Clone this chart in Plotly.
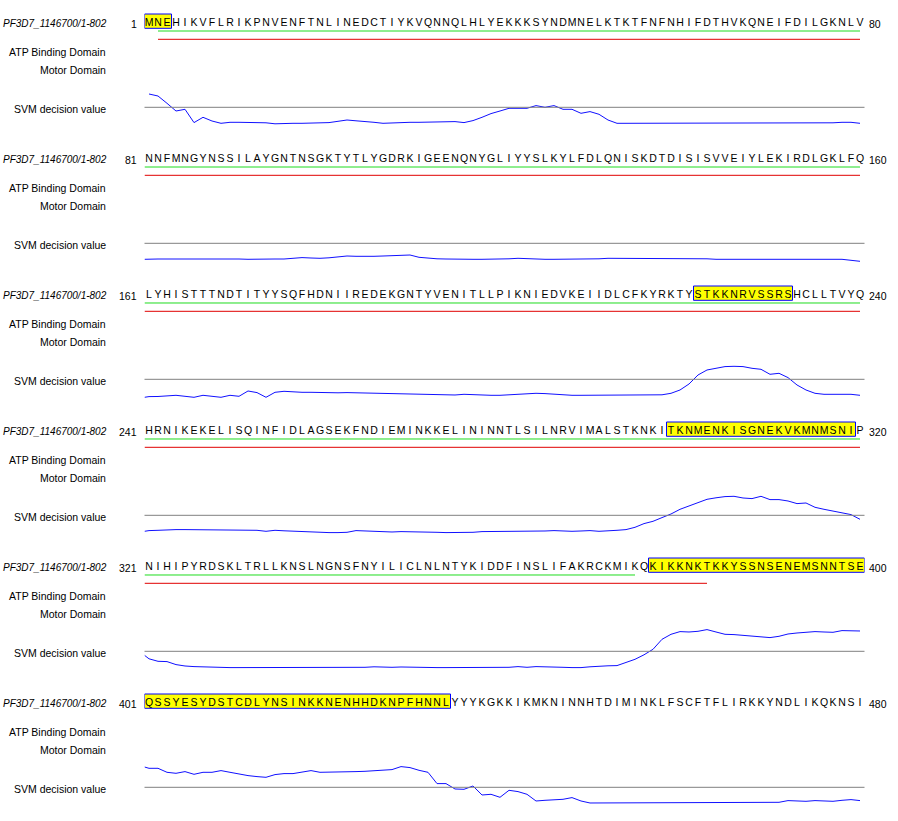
import plotly.graph_objects as go

# ---------------- data ----------------
SEQ_ID = "PF3D7_1146700/1-802"
SEQUENCE_ROWS = [
    "MNEHIKVFLRIKPNVENFTNLINEDCTIYKVQNNQLHLYEKKKSYNDMNELKTKTFNFNHIFDTHVKQNEIFDILGKNLV",
    "NNFMNGYNSSILAYGNTNSGKTYTLYGDRKIGEENQNYGLIYYSLKYLFDLQNISKDTDISISVVEIYLEKIRDLGKLFQ",
    "LYHISTTTNDTITYYSQFHDNIIREDEKGNTYVENITLLPIKNIEDVKEIIDLCFKYRKTYSTKKNRVSSRSHCLLTVYQ",
    "HRNIKEKELISQINFIDLAGSEKFNDIEMINKKELININNTLSILNRVIMALSTKNKITKNMENKISGNEKVKMNMSNIP",
    "NIHIPYRDSKLTRLLKNSLNGNSFNYILICLNLNTYKIDDFINSLIFAKRCKMIKQKIKKNKTKKYSSNSENEMSNNTSE",
    "QSSYESYDSTCDLYNSINKKNENHHDKNPFHNNLYYYKGKKIKMKNINNHTDIMINKLFSCFTFLIRKKYNDLIKQKNSI",
]
ROW_START = [1, 81, 161, 241, 321, 401]
ROW_END = [80, 160, 240, 320, 400, 480]

TRACK_LABELS = ["ATP Binding Domain", "Motor Domain", "SVM decision value"]
DOMAIN_START = [2, 2]
DOMAIN_END = [375, 383]

HIGHLIGHT_START = [1, 222, 299, 377]
HIGHLIGHT_END = [3, 232, 319, 434]

THRESHOLD = 0.0

svm_row1 = [1.33, 1.13, 0.4, -0.37, -0.2, -1.53, -1.0, -1.37, -1.6, -1.5,
            -1.5, -1.5, -1.55, -1.55, -1.65, -1.6, -1.6, -1.6, -1.6, -1.55,
            -1.53, -1.4, -1.27, -1.35, -1.4, -1.5, -1.6, -1.55, -1.5, -1.5,
            -1.5, -1.5, -1.5, -1.5, -1.43, -1.53, -1.33, -1.0, -0.63, -0.37,
            -0.1, -0.1, -0.1, 0.17, 0.0, 0.17, -0.2, -0.2, -0.6, -0.43,
            -0.7, -1.27, -1.6, -1.6, -1.6, -1.6, -1.53, -1.53, -1.53, -1.6,
            -1.6, -1.6, -1.6, -1.53, -1.6, -1.6, -1.6, -1.6, -1.6, -1.6,
            -1.6, -1.6, -1.6, -1.6, -1.53, -1.6, -1.55, -1.5, -1.5, -1.6]
svm_row2 = [-1.57, -1.57, -1.57, -1.57, -1.5, -1.57, -1.57, -1.57, -1.57, -1.57,
            -1.57, -1.6, -1.57, -1.57, -1.57, -1.57, -1.5, -1.43, -1.47, -1.5,
            -1.45, -1.35, -1.27, -1.3, -1.33, -1.3, -1.27, -1.22, -1.18, -1.17,
            -1.4, -1.5, -1.55, -1.57, -1.6, -1.6, -1.6, -1.6, -1.6, -1.6,
            -1.55, -1.5, -1.55, -1.6, -1.6, -1.6, -1.6, -1.6, -1.6, -1.6,
            -1.55, -1.5, -1.5, -1.5, -1.55, -1.5, -1.5, -1.55, -1.55, -1.5,
            -1.5, -1.5, -1.55, -1.6, -1.6, -1.6, -1.6, -1.6, -1.6, -1.6,
            -1.6, -1.6, -1.6, -1.6, -1.6, -1.6, -1.6, -1.6, -1.7, -1.8]
svm_row3 = [-1.73, -1.72, -1.68, -1.6, -1.7, -1.8, -1.6, -1.7, -1.8, -1.6,
            -1.7, -1.17, -1.33, -1.8, -1.3, -1.2, -1.27, -1.3, -1.3, -1.33,
            -1.33, -1.35, -1.33, -1.35, -1.37, -1.4, -1.4, -1.4, -1.43, -1.47,
            -1.5, -1.5, -1.53, -1.57, -1.57, -1.5, -1.55, -1.6, -1.6, -1.6,
            -1.55, -1.45, -1.4, -1.4, -1.43, -1.5, -1.55, -1.6, -1.6, -1.6,
            -1.6, -1.6, -1.6, -1.6, -1.6, -1.6, -1.6, -1.55, -1.4, -1.07,
            -0.47, 0.43, 0.93, 1.1, 1.27, 1.3, 1.27, 1.1, 1.0, 0.5,
            0.6, 0.17, -0.57, -1.07, -1.4, -1.5, -1.5, -1.5, -1.5, -1.6]
svm_row4 = [-1.53, -1.5, -1.45, -1.43, -1.43, -1.43, -1.43, -1.43, -1.43, -1.43,
            -1.47, -1.5, -1.5, -1.6, -1.5, -1.55, -1.6, -1.63, -1.67, -1.7,
            -1.73, -1.73, -1.7, -1.53, -1.57, -1.6, -1.63, -1.67, -1.63, -1.63,
            -1.67, -1.63, -1.7, -1.73, -1.73, -1.73, -1.7, -1.63, -1.63, -1.63,
            -1.63, -1.63, -1.57, -1.6, -1.57, -1.53, -1.57, -1.6, -1.57, -1.53,
            -1.6, -1.57, -1.5, -1.43, -1.2, -0.83, -0.6, -0.23, 0.13, 0.6,
            0.93, 1.33, 1.6, 1.75, 1.87, 1.9, 1.73, 1.67, 1.9, 1.57,
            1.57, 1.43, 1.17, 1.23, 0.8, 0.6, 0.4, 0.27, 0.07, -0.4]
svm_row5 = [-0.75, -1.0, -1.03, -1.33, -1.47, -1.53, -1.57, -1.6, -1.63, -1.63,
            -1.63, -1.63, -1.63, -1.63, -1.63, -1.6, -1.57, -1.6, -1.63, -1.63,
            -1.63, -1.63, -1.63, -1.63, -1.6, -1.55, -1.6, -1.6, -1.57, -1.6,
            -1.63, -1.63, -1.63, -1.63, -1.63, -1.63, -1.63, -1.63, -1.63, -1.63,
            -1.6, -1.53, -1.6, -1.53, -1.53, -1.55, -1.6, -1.63, -1.63, -1.55,
            -1.47, -1.45, -1.43, -1.15, -0.8, -0.35, 0.2, 1.2, 1.7, 1.97,
            1.93, 2.0, 2.17, 1.93, 1.7, 1.67, 1.6, 1.53, 1.43, 1.37,
            1.5, 1.73, 1.83, 1.9, 1.97, 1.93, 1.9, 2.07, 2.07, 2.03]
svm_row6 = [1.9, 1.9, 1.5, 1.4, 1.57, 1.3, 1.5, 1.5, 1.67, 1.5,
            1.33, 1.17, 1.07, 1.0, 1.27, 1.37, 1.37, 1.53, 1.67, 1.5,
            1.5, 1.5, 1.5, 1.57, 1.6, 1.67, 1.7, 1.77, 2.07, 1.97,
            1.7, 1.5, 0.37, 0.37, -0.17, -0.2, 0.13, -0.77, -0.7, -1.0,
            -0.3, -0.43, -0.7, -1.37, -1.3, -1.27, -1.2, -1.03, -1.37, -1.57,
            -1.57, -1.57, -1.57, -1.57, -1.57, -1.57, -1.57, -1.5, -1.5, -1.5,
            -1.5, -1.5, -1.57, -1.53, -1.5, -1.5, -1.5, -1.5, -1.5, -1.57,
            -1.5, -1.33, -1.37, -1.4, -1.33, -1.37, -1.4, -1.3, -1.23, -1.33]
SVM_ROWS = [svm_row1, svm_row2, svm_row3, svm_row4, svm_row5, svm_row6]

# ---------------- layout / style constants ----------------
W, H = 898, 821
PX_PER_UNIT = 10.0
GRAY0_PX = 107.3
BLOCK_PX = 136.0
Y_LO, Y_HI = -3.0, 9.6
X_L_PX, X_R_PX = 144.5, 864.5
ROW_LEN = 80

SEQ_Y = 8.35
BOX_Y0, BOX_Y1 = 7.9, 9.33
DOMAIN_Y = [7.63, 6.8]
LABEL_Y = [5.56, 3.73, -0.17]
DOMAIN_COLORS = ["#1edc1e", "#e00000"]
CURVE_COLOR = "#1010ff"
BOX_LINE = "#0000ff"
FONT = "Liberation Sans, Arial, sans-serif"

fig = go.Figure()
shapes = []
annotations = []
axes = {}

for b in range(len(SEQUENCE_ROWS)):
    sfx = "" if b == 0 else str(b + 1)
    xa, ya = "x" + sfx, "y" + sfx
    gray = GRAY0_PX + b * BLOCK_PX
    top_px = gray - Y_HI * PX_PER_UNIT
    bot_px = gray - Y_LO * PX_PER_UNIT
    axes["xaxis" + sfx] = dict(domain=[X_L_PX / W, X_R_PX / W], range=[0.5, ROW_LEN + 0.5],
                               visible=False, fixedrange=True, anchor=ya)
    axes["yaxis" + sfx] = dict(domain=[1 - bot_px / H, 1 - top_px / H], range=[Y_LO, Y_HI],
                               visible=False, fixedrange=True, anchor=xa)
    s0, e0 = ROW_START[b], ROW_END[b]
    row = SEQUENCE_ROWS[b]
    pos = list(range(1, len(row) + 1))

    # highlighted (yellow) regions
    for hs, he in zip(HIGHLIGHT_START, HIGHLIGHT_END):
        if he < s0 or hs > e0:
            continue
        shapes.append(dict(type="rect", xref=xa, yref=ya,
                           x0=max(hs, s0) - s0 + 1 - 0.5, x1=min(he, e0) - s0 + 1 + 0.5,
                           y0=BOX_Y0, y1=BOX_Y1, fillcolor="#ffff00",
                           line=dict(color=BOX_LINE, width=1), layer="below"))

    # sequence letters
    fig.add_trace(go.Scatter(x=pos, y=[SEQ_Y] * len(pos), mode="text", text=list(row),
                             textposition="middle center",
                             textfont=dict(family=FONT, size=10.5, color="#000000"),
                             xaxis=xa, yaxis=ya, hoverinfo="skip", showlegend=False,
                             cliponaxis=False))

    # domain lines
    for d in range(len(DOMAIN_START)):
        ds, de = DOMAIN_START[d], DOMAIN_END[d]
        if de < s0 or ds > e0:
            continue
        xs = ds - s0 + 1 if ds >= s0 else 0.5
        xe = min(de, e0) - s0 + 1
        fig.add_trace(go.Scatter(x=[xs, xe], y=[DOMAIN_Y[d], DOMAIN_Y[d]], mode="lines",
                                 line=dict(color=DOMAIN_COLORS[d], width=1),
                                 xaxis=xa, yaxis=ya, hoverinfo="skip", showlegend=False))

    # threshold line
    shapes.append(dict(type="line", xref=xa + " domain", yref=ya, x0=0, x1=1,
                       y0=THRESHOLD, y1=THRESHOLD, line=dict(color="#808080", width=1)))

    # SVM curve (continues from previous row's last value)
    vals = SVM_ROWS[b]
    cx, cy = list(pos), list(vals)
    if b > 0:
        cx = [0.5] + cx
        cy = [SVM_ROWS[b - 1][-1]] + cy
    fig.add_trace(go.Scatter(x=cx, y=cy, mode="lines", line=dict(color=CURVE_COLOR, width=1),
                             xaxis=xa, yaxis=ya, hoverinfo="skip", showlegend=False,
                             cliponaxis=False))

    # left labels
    annotations.append(dict(text="<i>" + SEQ_ID + "</i>", xref="paper", x=109 / W,
                            xanchor="right", yref=ya, y=SEQ_Y, yanchor="middle",
                            showarrow=False,
                            font=dict(family=FONT, size=10, color="#000000")))
    for lbl, ly in zip(TRACK_LABELS, LABEL_Y):
        annotations.append(dict(text=lbl, xref="paper", x=108 / W, xanchor="right",
                                yref=ya, y=ly, yanchor="middle", showarrow=False,
                                font=dict(family=FONT, size=10.5, color="#000000")))
    # start / end numbers
    annotations.append(dict(text=str(s0), xref="paper", x=139 / W, xanchor="right",
                            yref=ya, y=SEQ_Y, yanchor="middle", showarrow=False,
                            font=dict(family=FONT, size=10.5, color="#000000")))
    annotations.append(dict(text=str(e0), xref="paper", x=867 / W, xanchor="left",
                            yref=ya, y=SEQ_Y, yanchor="middle", showarrow=False,
                            font=dict(family=FONT, size=10.5, color="#000000")))

fig.update_layout(width=W, height=H, margin=dict(l=0, r=0, t=0, b=0),
                  paper_bgcolor="#ffffff", plot_bgcolor="#ffffff",
                  showlegend=False, shapes=shapes, annotations=annotations, **axes)

fig.write_html("out.html")
